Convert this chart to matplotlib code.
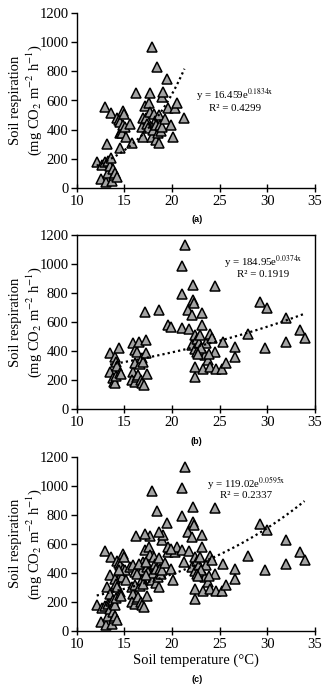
import numpy as np
import matplotlib
matplotlib.use("Agg")
import matplotlib.pyplot as plt

plt.rcParams["mathtext.fontset"] = "stix"

# ---- data ----
a_x = [12.1, 12.7, 12.6, 13.0, 13.0, 13.1, 13.2, 13.3, 13.3, 13.5, 13.6, 13.6, 13.7, 13.8,
       13.9, 14.0, 14.2, 14.2, 14.4, 14.5, 14.5, 14.5, 14.6, 14.8, 14.9, 14.9, 15.0, 15.1,
       15.2, 15.6, 15.8, 16.2, 16.9, 17.0, 17.0, 17.2, 17.3, 17.4, 17.5, 17.6, 17.7, 17.7,
       17.9, 17.9, 18.0, 18.1, 18.2, 18.3, 18.3, 18.4, 18.5, 18.6, 18.6, 18.7, 18.8, 18.9,
       19.0, 19.1, 19.3, 19.5, 19.6, 19.9, 20.1, 20.3, 20.5, 21.3]
a_y = [180, 155, 60, 553, 175, 40, 300, 100, 185, 150, 512, 205, 45, 130,
       90, 100, 75, 480, 466, 455, 374, 270, 385, 375, 430, 530, 510, 420,
       350, 440, 305, 655, 420, 478, 350, 560, 478, 440, 408, 580, 655, 520,
       350, 966, 400, 510, 460, 430, 330, 829, 375, 305, 500, 430, 390, 420,
       625, 660, 470, 746, 545, 430, 350, 545, 580, 478]

b_x = [13.5, 13.5, 13.8, 13.9, 14.0, 14.0, 14.1, 14.1, 14.2, 14.4, 14.5, 14.6,
       15.9, 15.9, 15.8, 16.1, 16.1, 16.1, 16.3, 16.3, 16.4, 16.5, 16.6, 16.7, 16.8,
       16.9, 17.0, 17.1, 17.2, 17.3, 17.3, 17.4, 18.6, 19.6, 19.9, 21.0, 21.0, 21.0,
       21.4, 21.7, 21.8, 22.1, 22.1, 22.2, 22.2, 22.3, 22.4, 22.4, 22.4, 22.4, 22.6,
       22.8, 22.9, 22.9, 23.1, 23.1, 23.3, 23.5, 23.6, 23.8, 24.0, 24.0, 24.2, 24.5,
       24.5, 24.6, 25.2, 25.4, 25.7, 26.6, 26.6, 28.0, 29.2, 29.8, 30.0, 32.0, 32.0,
       33.4, 33.9, 22.6, 23.0, 23.9, 22.7]
b_y = [385, 257, 211, 188, 177, 361, 326, 230, 300, 419, 246, 241,
       453, 257, 200, 315, 185, 407, 395, 223, 235, 464, 310, 200, 350,
       180, 327, 166, 671, 476, 388, 241, 683, 579, 563, 556, 986, 793,
       1131, 683, 549, 648, 441, 855, 752, 729, 510, 412, 292, 223, 480,
       453, 510, 407, 664, 579, 274, 372, 453, 338, 517, 292, 487, 848,
       395, 274, 274, 464, 315, 430, 361, 517, 740, 419, 694, 625, 464,
       545, 487, 390, 420, 380, 380]

fit_a = ("16.459", "0.1834", "0.4299")
fit_b = ("184.95", "0.0374", "0.1919")
fit_c = ("119.02", "0.0595", "0.2337")

c_x = a_x + b_x
c_y = a_y + b_y

serif = "Liberation Serif"
W, H = 330, 686
fig = plt.figure(figsize=(W / 100, H / 100), dpi=100)

def px_axes(top, bottom, left=76.7, right=315):
    return fig.add_axes([left / W, 1 - bottom / H, (right - left) / W, (bottom - top) / H])

panels = [
    (a_x, a_y, fit_a, 13.3, 187.7, False, "(a)", 220, (26.6, 640, 548)),
    (b_x, b_y, fit_b, 235, 409, True, "(b)", 441.5, (29.6, 1010, 925)),
    (c_x, c_y, fit_c, 456.7, 631, False, "(c)", 679, (27.8, 1018, 930)),
]

for i, (xs, ys, fit, top, bot, box, lab, laby, eqpos) in enumerate(panels):
    ax = px_axes(top, bot)
    ax.plot(xs, ys, linestyle="none", marker="^", markersize=6.5,
            markerfacecolor="#a3a3a3", markeredgecolor="black", markeredgewidth=1.1,
            zorder=3)
    xf = np.linspace(min(xs), max(xs), 100)
    ax.plot(xf, float(fit[0]) * np.exp(float(fit[1]) * xf), color="black",
            linestyle=(0, (1, 1.4)), linewidth=1.6, zorder=4)
    ax.set_xlim(10, 35)
    ax.set_ylim(0, 1200)
    ax.set_xticks([10, 15, 20, 25, 30, 35])
    ax.set_yticks([0, 200, 400, 600, 800, 1000, 1200])
    for s in ["left", "bottom", "top", "right"]:
        ax.spines[s].set_linewidth(1.0)
    if not box:
        ax.spines["top"].set_visible(False)
        ax.spines["right"].set_visible(False)
    ax.tick_params(axis="x", direction="inout", length=6, width=1.0, labelsize=10.5, pad=2)
    ax.tick_params(axis="y", direction="out", length=4, width=1.0, labelsize=10.5, pad=2)
    for t in ax.get_xticklabels() + ax.get_yticklabels():
        t.set_fontfamily(serif)
    ax.set_ylabel("Soil respiration\n(mg CO$_2$ m$^{-2}$ h$^{-1}$)", fontfamily=serif,
                  fontsize=10.5, linespacing=1.15)
    ax.yaxis.set_label_coords(-0.138, 0.5)
    ax.text(eqpos[0], eqpos[1], "y = %se$^{\\mathrm{%sx}}$" % (fit[0], fit[1]),
            ha="center", va="center", fontsize=7.8, fontfamily=serif)
    ax.text(eqpos[0], eqpos[2], "R² = %s" % fit[2], ha="center", va="center",
            fontsize=7.8, fontfamily=serif)
    if i == 2:
        ax.set_xlabel("Soil temperature (°C)", fontfamily=serif, fontsize=10.5, labelpad=2)
    fig.text(196.7 / W, 1 - laby / H, lab, ha="center", va="center", fontsize=6.5,
             fontweight="bold", fontfamily="Liberation Sans")

fig.savefig("out.png", dpi=100, facecolor="white")
